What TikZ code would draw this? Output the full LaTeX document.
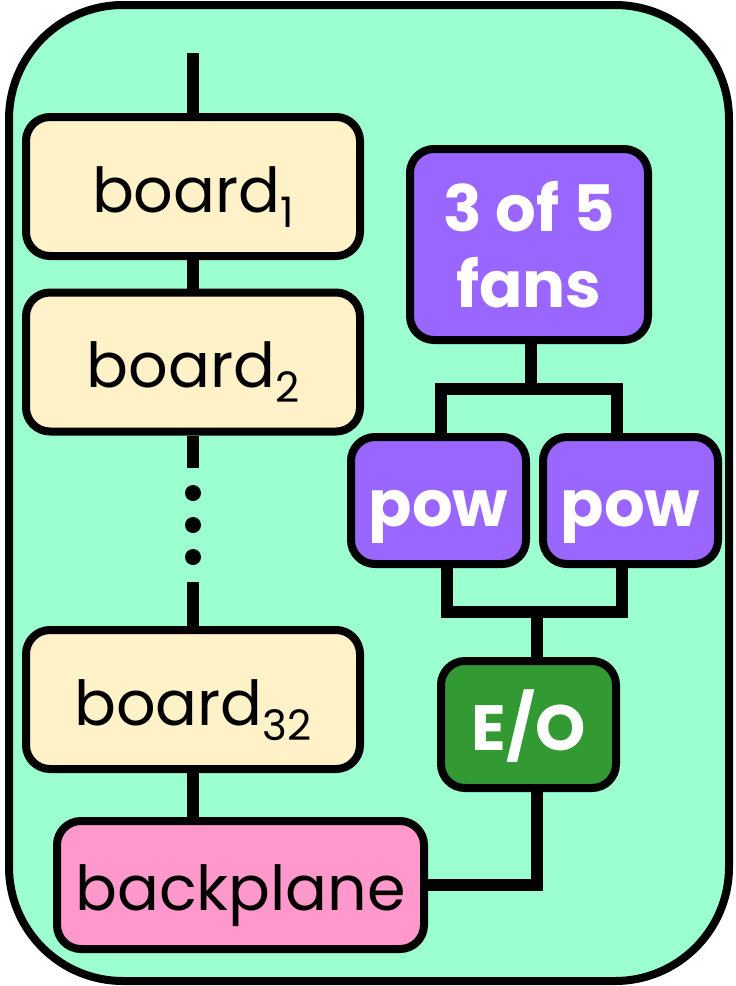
\documentclass[tikz,border=0pt]{standalone}
\usepackage{fontspec}
\setmainfont{Poppins}
\usepackage{tikz}
\usetikzlibrary{positioning,calc}
\definecolor{rackmint}{HTML}{9BFFCF}
\definecolor{boardcream}{HTML}{FFF2C9}
\definecolor{fanpurple}{HTML}{9966FF}
\definecolor{eogreen}{HTML}{339933}
\definecolor{planepink}{HTML}{FF99CC}
\newcommand{\boardno}[1]{\raisebox{-7.5pt}{\fontsize{21}{21}\selectfont #1}}
\tikzset{
  rack/.style={
    rounded corners=57pt,
    draw=black,
    line width=4pt,
    fill=rackmint
  },
  unitbox/.style={
    rounded corners=12pt,
    draw=black,
    line width=4pt,
    inner sep=0pt,
    align=center
  },
  boardbox/.style={
    unitbox,
    fill=boardcream,
    minimum width=167pt,
    minimum height=69.5pt,
    text height=25.5pt,
    text depth=0pt,
    font=\fontsize{31}{36}\selectfont
  },
  powerbox/.style={
    unitbox,
    fill=fanpurple,
    text=white,
    minimum width=87.5pt,
    minimum height=63.5pt,
    font=\fontsize{32}{38}\selectfont\bfseries
  },
  lowtext/.style={
    text height=26pt,
    text depth=0pt
  },
  wire/.style={
    line width=6pt,
    draw=black
  }
}

\begin{document}
\begin{tikzpicture}[x=0.5pt,y=-0.5pt]
\useasboundingbox (0,0) rectangle (735,986);
\draw[rack] (9,5) rectangle (729,981);

\node[boardbox] (board1) at (193,186.5) {board\boardno{1}};
\node[boardbox] (board2) at (193,362) {board\boardno{2}};
\node[boardbox] (board32) at (193,699.5) {board\boardno{32}};
\node[boardbox, fill=planepink, minimum width=183.5pt, minimum height=64pt] (backplane) at (240.5,885) {backplane};

\node[powerbox, minimum width=119pt, minimum height=95.5pt] (fans) at (529,244.5) {3 of 5\\fans};
\node[powerbox, lowtext] (pow1) at (438.5,500.5) {pow};
\node[powerbox, lowtext] (pow2) at (630.5,500.5) {pow};
\node[powerbox, lowtext, fill=eogreen] (eo) at (528.5,724.5) {E/O};

\coordinate (bus) at (193,53);
\coordinate (gapA) at (193,468);
\coordinate (gapB) at (193,582);
\coordinate (fanjoin) at (531,389);
\coordinate (powjoin) at (537,612);

\draw[wire] (bus) -- (board1.north);
\draw[wire] (board1) -- (board2);
\draw[wire] (board2.south) -- (gapA);
\foreach \y in {493,525,557}
  \fill (193,\y) circle[radius=4pt];
\draw[wire] (gapB) -- (board32.north);
\draw[wire] (board32.south) -- (board32.south |- backplane.north);

\draw[wire] ([xshift=1pt]fans.south) -- (fanjoin);
\draw[wire] ([xshift=1.25pt]pow1.north) |- (fanjoin) -| ([xshift=-6.75pt]pow2.north);
\draw[wire] ([xshift=4.25pt]pow1.south) |- (powjoin) -| ([xshift=-4.25pt]pow2.south);
\draw[wire] (powjoin) -- ([xshift=4.25pt]eo.north);
\draw[wire] ([xshift=4.25pt]eo.south) |- (backplane.east);
\end{tikzpicture}
\end{document}
